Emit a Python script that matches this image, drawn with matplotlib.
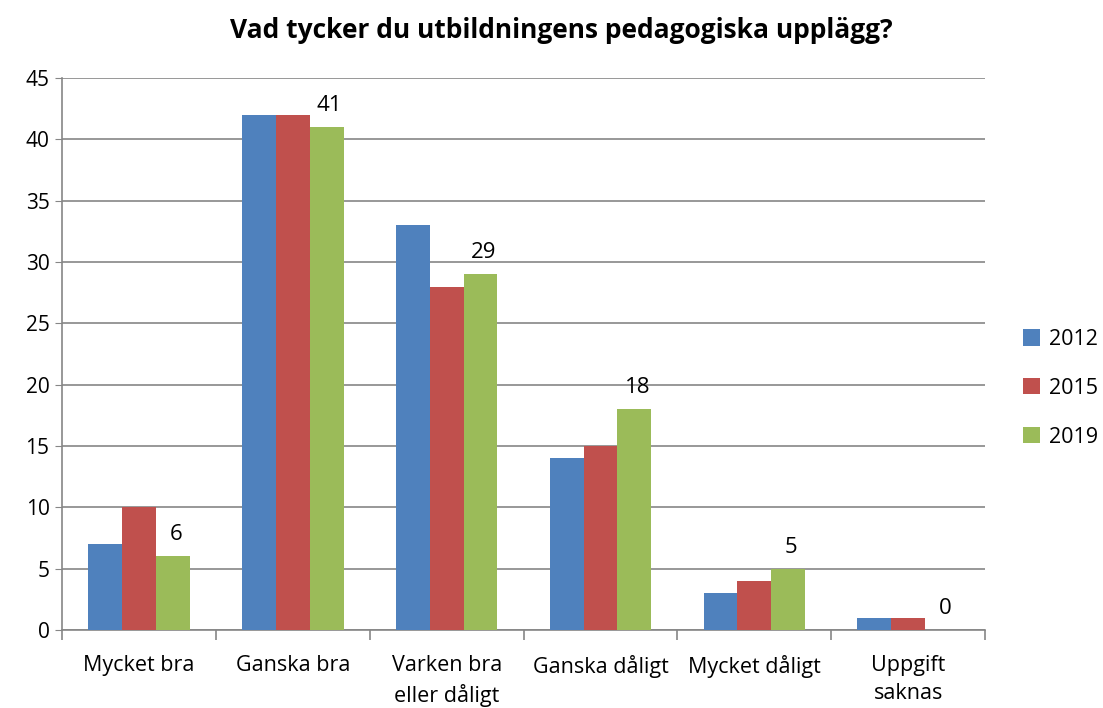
import matplotlib.pyplot as plt
import numpy as np

# Data
kategorier = ['Mycket bra', 'Ganska bra', 'Varken bra\neller dåligt',
              'Ganska dåligt', 'Mycket dåligt', 'Uppgift\nsaknas']
ar = ['2012', '2015', '2019']
v2012 = [7, 42, 33, 14, 3, 1]
v2015 = [10, 42, 28, 15, 4, 1]
v2019 = [6, 41, 29, 18, 5, 0]
farger = ['#4F81BD', '#C0504D', '#9BBB59']

plt.rcParams['font.family'] = ['Open Sans', 'DejaVu Sans']

fig = plt.figure(figsize=(11.03, 7.08), dpi=100)
ax = fig.add_axes([0.0562, 0.110, 0.837, 0.780])

x = np.arange(len(kategorier))
w = 0.22
for i, (vals, lab) in enumerate(zip([v2012, v2015, v2019], ar)):
    ax.bar(x + (i - 1) * w, vals, w, color=farger[i], label=lab, zorder=3)

# Datalabels for 2019
for xi, v in zip(x, v2019):
    ax.text(xi + w + 0.02, v + 0.9, str(v), ha='center', va='bottom', fontsize=16)

ax.set_xlim(-0.5, len(kategorier) - 0.5)
ax.set_ylim(0, 45)
ax.set_yticks(range(0, 46, 5))
ax.tick_params(axis='y', labelsize=15, length=5, color='#868686', pad=4)
ax.yaxis.grid(True, color='#868686', linewidth=1.2, zorder=0)

ax.set_xticks(x)
ax.set_xticklabels(kategorier, fontsize=15.5, linespacing=1.45)
ax.tick_params(axis='x', length=0, pad=18)
ax.set_xticks(np.arange(-0.5, len(kategorier), 1), minor=True)
ax.tick_params(axis='x', which='minor', length=7, color='#868686', width=1.2)

for s in ['top', 'right']:
    ax.spines[s].set_visible(False)
for s in ['left', 'bottom']:
    ax.spines[s].set_color('#868686')
    ax.spines[s].set_linewidth(1.2)

fig.text(0.509, 0.957, 'Vad tycker du utbildningens pedagogiska upplägg?',
         fontsize=19, fontweight='bold', ha='center', va='center')

ax.legend(loc='center left', bbox_to_anchor=(1.02, 0.438), frameon=False,
          fontsize=15.5, handlelength=0.8, handleheight=0.8, labelspacing=1.3,
          handletextpad=0.4)

fig.savefig('out.png', dpi=100)
